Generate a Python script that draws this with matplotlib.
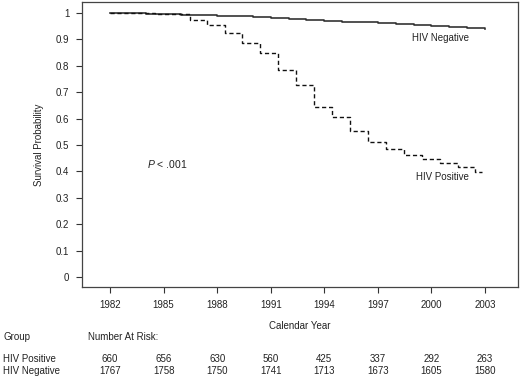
import matplotlib
matplotlib.use('Agg')
import matplotlib.pyplot as plt
import matplotlib.transforms as mtransforms

plt.rcParams['font.family'] = ['Liberation Sans', 'DejaVu Sans']
plt.rcParams['mathtext.fontset'] = 'custom'
plt.rcParams['mathtext.it'] = 'Liberation Sans:italic'
plt.rcParams['mathtext.rm'] = 'Liberation Sans'

# HIV negative: yearly step estimates
neg_years = [1982, 1983, 1984, 1985, 1986, 1987, 1988, 1989, 1990, 1991, 1992,
             1993, 1994, 1995, 1996, 1997, 1998, 1999, 2000, 2001, 2002, 2003]
neg_surv = [1.000, 0.999, 0.998, 0.996, 0.994, 0.992, 0.990, 0.988, 0.985, 0.982, 0.978,
            0.975, 0.971, 0.968, 0.965, 0.961, 0.958, 0.954, 0.951, 0.947, 0.943, 0.938]

# HIV positive: step times and survival after each step
pos_years = [1982.0, 1984.5, 1985.5, 1986.48, 1987.43, 1988.44, 1989.39, 1990.40, 1991.41,
             1992.41, 1993.42, 1994.43, 1995.44, 1996.45, 1997.45, 1998.46, 1999.47,
             2000.48, 2001.49, 2002.44, 2002.83]
pos_surv = [1.000, 0.997, 0.995, 0.973, 0.955, 0.923, 0.885, 0.850, 0.784,
            0.727, 0.645, 0.607, 0.554, 0.513, 0.484, 0.462, 0.446,
            0.431, 0.418, 0.399, 0.399]

tick_years = [1982, 1985, 1988, 1991, 1994, 1997, 2000, 2003]
risk_pos = [660, 656, 630, 560, 425, 337, 292, 263]
risk_neg = [1767, 1758, 1750, 1741, 1713, 1673, 1605, 1580]

W, H = 520, 378
fs = 7
fig = plt.figure(figsize=(W / 100, H / 100), dpi=100)
ax = fig.add_axes([82 / W, 1 - 287 / H, (518 - 82) / W, (287 - 2) / H])

txt = '#222222'
ax.step(neg_years, neg_surv, where='post', color='#333333', lw=1.2)
ax.step(pos_years, pos_surv, where='post', color='#111111', lw=1.0,
        dashes=(3, 2))

ax.set_xlim(1980.43, 2004.85)
ax.set_ylim(-0.038, 1.042)
ax.set_xticks(tick_years)
ax.set_xticklabels([str(y) for y in tick_years])
yt = [i / 10 for i in range(11)]
ax.set_yticks(yt)
ax.set_yticklabels(['0'] + [f'{v:.1f}' for v in yt[1:-1]] + ['1'])
ax.tick_params(direction='out', length=4, width=0.8, labelsize=fs, colors='#333333',
               labelcolor=txt, pad=5)
for s in ax.spines.values():
    s.set_color('#444444')
    s.set_linewidth(0.9)

ax.set_ylabel('Survival Probability', fontsize=fs, color=txt)
ax.yaxis.set_label_coords((44 - 82) / 436, 0.5)

ax.text(1985.2, 0.428, '$P$ < .001', fontsize=fs + 0.5, color=txt, ha='center', va='center')
ax.text(2000.5, 0.905, 'HIV Negative', fontsize=fs, color=txt, ha='center', va='center')
ax.text(2000.6, 0.379, 'HIV Positive', fontsize=fs, color=txt, ha='center', va='center')

fig.text(300 / W, 1 - 326 / H, 'Calendar Year', fontsize=fs, color=txt,
         ha='center', va='center')

# number-at-risk table
tr = mtransforms.blended_transform_factory(ax.transData, fig.transFigure)
fig.text(3 / W, 1 - 337 / H, 'Group', fontsize=fs, color=txt, va='center')
fig.text(88 / W, 1 - 337 / H, 'Number At Risk:', fontsize=fs, color=txt, va='center')
fig.text(3 / W, 1 - 359 / H, 'HIV Positive', fontsize=fs, color=txt, va='center')
fig.text(3 / W, 1 - 371 / H, 'HIV Negative', fontsize=fs, color=txt, va='center')
for yr, p, n in zip(tick_years, risk_pos, risk_neg):
    ax.text(yr, 1 - 359 / H, str(p), transform=tr, fontsize=fs, color=txt,
            ha='center', va='center')
    ax.text(yr, 1 - 371 / H, str(n), transform=tr, fontsize=fs, color=txt,
            ha='center', va='center')

fig.savefig('out.png', dpi=100)
